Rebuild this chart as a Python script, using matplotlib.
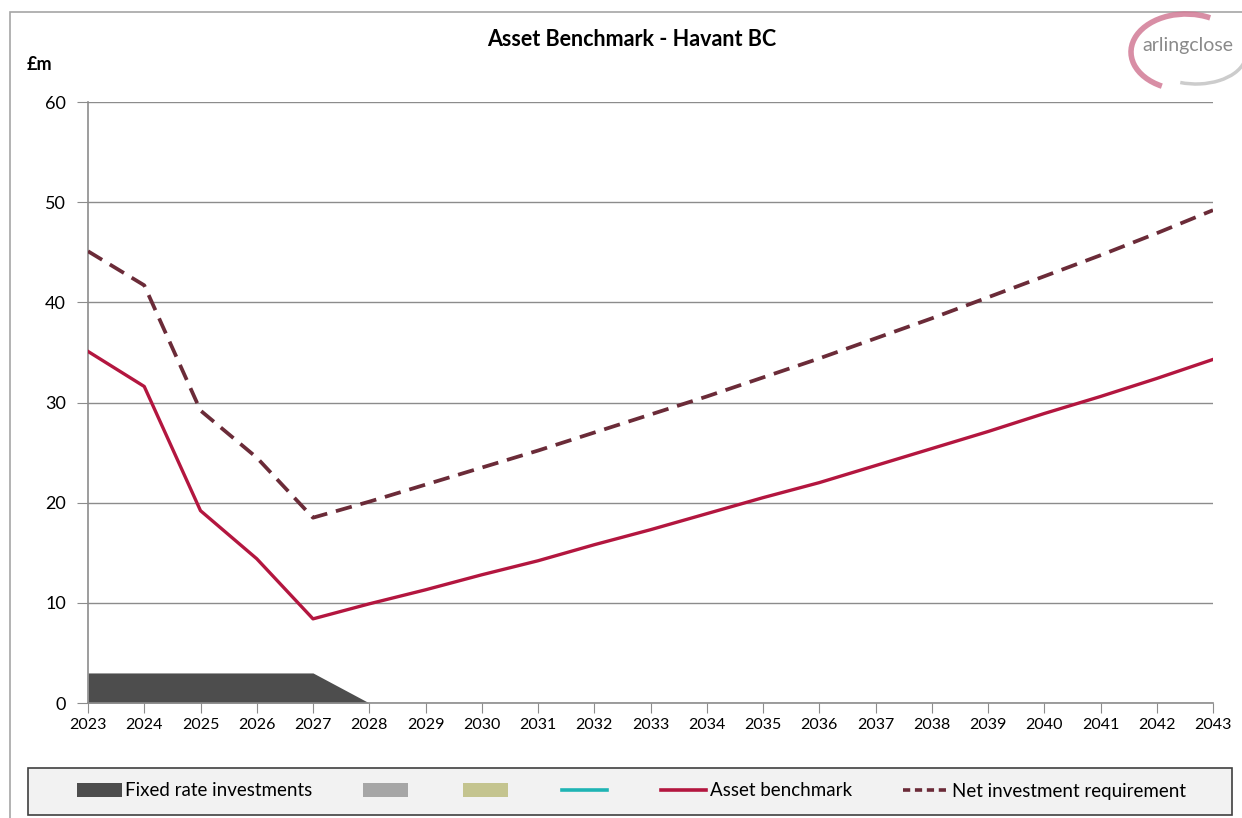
import matplotlib
matplotlib.use("Agg")
import matplotlib.pyplot as plt
from matplotlib.patches import Rectangle, Arc, Patch
from matplotlib.lines import Line2D

plt.rcParams['font.family'] = ['Lato', 'DejaVu Sans']

# data (£m)
years = list(range(2023, 2044))
fixed_rate = [3.0, 3.0, 3.0, 3.0, 3.0, 0.0, 0.0, 0.0, 0.0, 0.0, 0.0,
              0.0, 0.0, 0.0, 0.0, 0.0, 0.0, 0.0, 0.0, 0.0, 0.0]
asset_benchmark = [35.1, 31.6, 19.2, 14.4, 8.4, 9.9, 11.3, 12.8, 14.2, 15.8, 17.3,
                   18.9, 20.5, 22.0, 23.7, 25.4, 27.1, 28.9, 30.6, 32.4, 34.3]
net_requirement = [45.1, 41.7, 29.2, 24.5, 18.5, 20.1, 21.8, 23.5, 25.2, 27.0, 28.8,
                   30.6, 32.5, 34.4, 36.4, 38.4, 40.5, 42.6, 44.7, 46.9, 49.2]
y_ticks = [0, 10, 20, 30, 40, 50, 60]

W, H = 1242, 818
fig = plt.figure(figsize=(W / 100, H / 100), dpi=100)
ax = fig.add_axes([88 / W, (H - 703) / H, (1213 - 88) / W, (703 - 102) / H])

# outer chart border
fig.patches.append(Rectangle((10 / W, -0.05), 1.1, (H - 12) / H + 0.05,
                             transform=fig.transFigure, fill=False,
                             edgecolor='#a6a6a6', lw=1.2))

# series
ax.fill_between(years, fixed_rate, 0, color='#4d4d4d', lw=0, zorder=2)
ax.plot(years, asset_benchmark, color='#b3163f', lw=2.4, zorder=3)
ax.plot(years, net_requirement, color='#6b2b38', lw=2.7, zorder=3,
        dashes=(4.4, 2.4))

# axes formatting
ax.set_xlim(years[0], years[-1])
ax.set_ylim(0, 60)
ax.set_yticks(y_ticks)
ax.set_xticks(years)
ax.set_xticklabels([str(y) for y in years], fontsize=11.5)
ax.tick_params(axis='y', labelsize=13, length=8, color='#8c8c8c', pad=8)
ax.tick_params(axis='x', length=7, color='#8c8c8c', pad=4)
ax.grid(axis='y', color='#8c8c8c', lw=1)
ax.set_axisbelow(True)
for s in ['top', 'right']:
    ax.spines[s].set_visible(False)
for s in ['left', 'bottom']:
    ax.spines[s].set_color('#8c8c8c')
    ax.spines[s].set_linewidth(1.2)

# titles
fig.text(632 / W, 1 - 40 / H, 'Asset Benchmark - Havant BC', ha='center',
         va='center', fontsize=15.5, fontweight='bold')
fig.text(27 / W, 1 - 65 / H, '£m', ha='left', va='center', fontsize=13,
         fontweight='bold')

# logo
fig.patches.append(Arc((1186 / W, 1 - 52 / H), 110 / W, 76 / H, theta1=65,
                       theta2=245, transform=fig.transFigure,
                       color='#d27a95', lw=4, alpha=0.85))
fig.patches.append(Arc((1196 / W, 1 - 54 / H), 100 / W, 60 / H, theta1=250,
                       theta2=345, transform=fig.transFigure,
                       color='#cccccc', lw=2.5))
fig.text(1188 / W, 1 - 45 / H, 'arlingclose', ha='center', va='center',
         fontsize=14, color='#8a8a8a')

# legend box
fig.patches.append(Rectangle((28 / W, (H - 815) / H), 1204 / W, 47 / H,
                             transform=fig.transFigure, facecolor='#f2f2f2',
                             edgecolor='#404040', lw=1.2))
handles = [
    Patch(facecolor='#4d4d4d', edgecolor='none'),
    Patch(facecolor='#a6a6a6', edgecolor='none'),
    Patch(facecolor='#c4c48f', edgecolor='none'),
    Line2D([], [], color='#1fb4b4', lw=2.6),
    Line2D([], [], color='#b3163f', lw=2.6),
    Line2D([], [], color='#6b2b38', lw=2.6, dashes=(2.0, 1.3)),
]
labels = ['Fixed rate investments', '', '', '', 'Asset benchmark',
          'Net investment requirement']
fig.legend(handles, labels, loc='center', bbox_to_anchor=(631 / W, 1 - 791 / H),
           ncol=6, frameon=False, fontsize=13.5, handlelength=2.4,
           handleheight=0.7, handletextpad=0.2, columnspacing=2.7)

fig.savefig('out.png', dpi=100)
